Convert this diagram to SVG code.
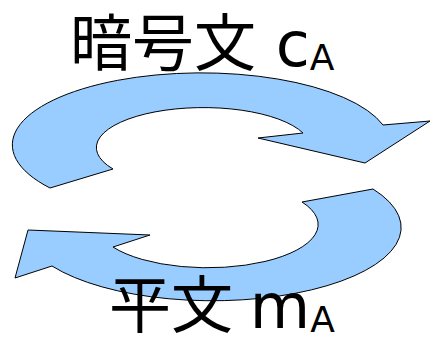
<svg xmlns="http://www.w3.org/2000/svg" width="435" height="342" viewBox="0 0 435 342">
<style>
.arrow{fill:#99ccff;stroke:#000;stroke-width:1;stroke-linejoin:miter}
.lbl{font-family:"DejaVu Sans","Noto Sans CJK JP",sans-serif;font-size:62px;fill:#000}
.sub{font-size:36px}
</style>
<rect width="435" height="342" fill="#fff"/>
<g id="connectors">
<path id="arrow-top" class="arrow" d="M 50,188 A 189 72 0 1 1 383,125 L 430,121 L 365,163 L 258,138 L 303,133 A 107 40 0 1 0 113,169 Z"/>
<path id="arrow-bottom" class="arrow" d="M 302,202 L 373,189 A 188 73 0 0 1 52,266 L 15,278 L 28,230 L 150,235 L 113,247 A 110 43 0 0 0 302,202 Z"/>
</g>
<g id="ciphertext">
<text class="lbl" x="70" y="66">暗号文 c<tspan class="sub" dy="4">A</tspan></text>
</g>
<g id="plaintext">
<text class="lbl" x="109" y="328">平文 <tspan dx="-3">m</tspan><tspan class="sub" dy="4">A</tspan></text>
</g>
</svg>
